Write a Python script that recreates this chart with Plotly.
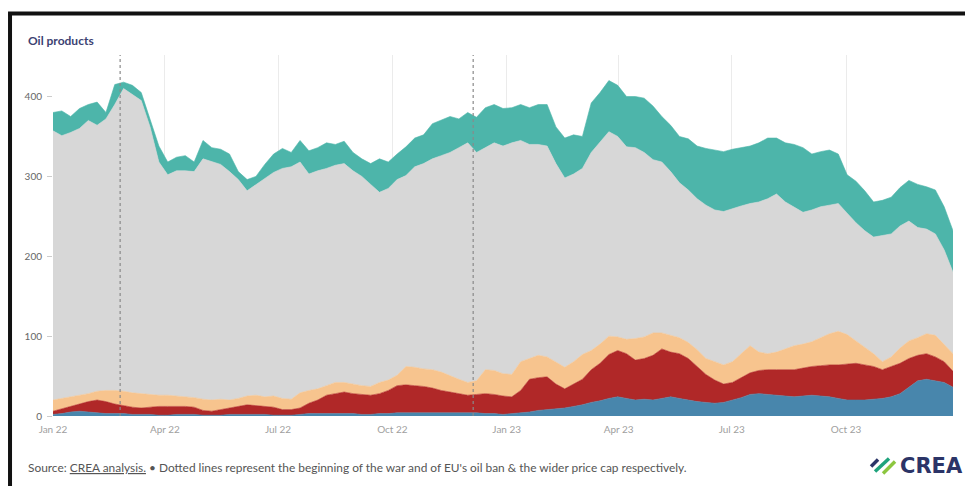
import pandas as pd
import plotly.graph_objects as go

# Cumulative boundaries of the stacked layers, weekly
teal_top = [380, 382, 375, 385, 390, 393, 380, 415, 418, 414,
            405, 372, 338, 318, 324, 326, 318, 345, 336, 334,
            328, 306, 296, 300, 315, 328, 335, 330, 345, 332,
            336, 342, 340, 344, 330, 322, 316, 322, 318, 328,
            337, 348, 352, 366, 370, 375, 372, 380, 374, 386,
            390, 385, 386, 390, 386, 390, 390, 362, 348, 352,
            350, 392, 405, 420, 414, 400, 400, 398, 388, 375,
            364, 350, 347, 338, 335, 333, 331, 334, 336, 338,
            342, 348, 348, 342, 340, 336, 328, 331, 333, 328,
            302, 294, 282, 268, 270, 274, 286, 295, 290, 287,
            283, 262, 232]
gray_top = [357, 351, 355, 360, 370, 364, 372, 390, 410, 403,
            395, 362, 318, 302, 307, 307, 306, 322, 318, 315,
            306, 296, 282, 290, 297, 305, 310, 312, 318, 303,
            307, 310, 314, 316, 307, 300, 290, 280, 285, 296,
            301, 312, 316, 322, 326, 330, 336, 342, 330, 336,
            342, 338, 342, 345, 340, 340, 338, 316, 298, 303,
            310, 330, 343, 356, 350, 337, 336, 330, 321, 318,
            306, 292, 283, 272, 264, 258, 256, 260, 263, 266,
            268, 272, 278, 268, 262, 255, 258, 262, 264, 266,
            254, 242, 232, 224, 226, 228, 238, 244, 236, 234,
            228, 208, 180]
orange_top = [20, 22, 24, 26, 28, 31, 32, 32, 31, 29,
              28, 27, 26, 26, 25, 24, 23, 21, 20, 21,
              20, 22, 25, 26, 24, 25, 22, 21, 29, 32,
              34, 38, 42, 42, 40, 38, 37, 42, 45, 51,
              62, 61, 59, 58, 55, 50, 46, 42, 44, 58,
              57, 53, 52, 68, 72, 76, 74, 68, 61, 68,
              77, 82, 90, 100, 99, 96, 97, 99, 104, 104,
              101, 98, 92, 83, 72, 68, 64, 68, 78, 88,
              80, 78, 80, 84, 88, 90, 93, 98, 103, 106,
              102, 94, 86, 78, 68, 74, 85, 94, 98, 103,
              101, 90, 78]
red_top = [6, 9, 12, 15, 18, 20, 18, 15, 13, 11,
           10, 11, 12, 12, 12, 12, 11, 7, 6, 8,
           10, 12, 14, 13, 12, 11, 8, 8, 10, 16,
           20, 26, 28, 30, 28, 27, 26, 28, 32, 38,
           39, 38, 37, 35, 32, 30, 28, 26, 27, 28,
           27, 25, 24, 32, 46, 48, 49, 40, 34, 40,
           46, 58, 66, 77, 82, 78, 70, 72, 76, 84,
           80, 78, 72, 62, 52, 45, 40, 42, 48, 54,
           57, 58, 58, 58, 58, 60, 62, 63, 64, 64,
           65, 66, 64, 62, 58, 62, 66, 72, 76, 78,
           74, 68, 56]
blue_top = [2, 3, 5, 6, 5, 4, 3, 3, 3, 2,
            2, 2, 1, 1, 2, 2, 2, 1, 1, 1,
            2, 2, 2, 2, 2, 1, 1, 1, 2, 3,
            3, 3, 3, 3, 3, 2, 2, 3, 3, 4,
            4, 4, 4, 4, 4, 4, 4, 4, 4, 3,
            3, 2, 3, 4, 5, 7, 8, 9, 10, 12,
            14, 17, 19, 22, 24, 22, 20, 21, 20, 22,
            24, 22, 20, 18, 17, 16, 17, 20, 23, 27,
            28, 27, 26, 25, 24, 25, 26, 25, 24, 22,
            20, 20, 20, 21, 22, 24, 28, 36, 44, 46,
            44, 42, 36]

dates = pd.date_range("2022-01-01", "2023-12-26", periods=len(teal_top))
event_dates = ["2022-02-24", "2022-12-05"]
y_ticks = [0, 100, 200, 300, 400]

layers = [
    ("blue", blue_top, "#4886ac", "tozeroy"),
    ("red", red_top, "#b02828", "tonexty"),
    ("orange", orange_top, "#f7c48e", "tonexty"),
    ("gray", gray_top, "#d7d7d7", "tonexty"),
    ("teal", teal_top, "#4db5aa", "tonexty"),
]

fig = go.Figure()
for name, vals, col, fill in layers:
    fig.add_trace(go.Scatter(x=dates, y=vals, name=name, mode="lines",
                             line=dict(width=0.6, color=col), fill=fill,
                             fillcolor=col, showlegend=False, hoverinfo="skip"))

L, R, T, B = 52.5, 12, 55, 69.5
W, H = 965, 486
pw, ph = W - L - R, H - T - B

def xp(px):
    return (px - L) / pw

def yp(py):
    return (H - B - py) / ph

shapes = []
for d in event_dates:
    shapes.append(dict(type="line", xref="x", yref="paper", x0=d, x1=d, y0=0, y1=1,
                       line=dict(color="#8a8a8a", width=1.2, dash="dot"), layer="above"))
# image frame
shapes.append(dict(type="line", xref="paper", yref="paper", x0=xp(9.5), x1=xp(9.5),
                   y0=yp(500), y1=yp(13.5), line=dict(color="#111", width=4)))
shapes.append(dict(type="line", xref="paper", yref="paper", x0=xp(7.5), x1=xp(980),
                   y0=yp(13.5), y1=yp(13.5), line=dict(color="#111", width=4)))
# logo icon stripes
for (x0, y0, x1, y1, c) in [(871, 467, 878, 460, "#2b3467"),
                            (875, 472, 889, 459, "#1ea37c"),
                            (883, 474, 895, 462, "#8cc63f")]:
    shapes.append(dict(type="line", xref="paper", yref="paper", x0=xp(x0), y0=yp(y0),
                       x1=xp(x1), y1=yp(y1), line=dict(color=c, width=3.5)))

annotations = [
    dict(text="<b>Oil products</b>", xref="paper", yref="paper", x=xp(25), y=yp(40),
         xanchor="left", yanchor="middle", showarrow=False,
         font=dict(family="Lato", size=12, color="#3c4272")),
    dict(text="Source: <span style='text-decoration:underline'>CREA analysis.</span> • Dotted lines represent the beginning of the war and of EU's oil ban & the wider price cap respectively.",
         xref="paper", yref="paper", x=xp(25), y=yp(468), xanchor="left", yanchor="middle",
         showarrow=False, font=dict(family="Lato", size=11.9, color="#555")),
    dict(text="<b>CREA</b>", xref="paper", yref="paper", x=xp(898), y=yp(467),
         xanchor="left", yanchor="middle", showarrow=False,
         font=dict(family="DejaVu Sans", size=21, color="#2b3467")),
]

fig.update_layout(
    width=W, height=H, margin=dict(l=L, r=R, t=T, b=B),
    paper_bgcolor="white", plot_bgcolor="white",
    font=dict(family="Lato", size=10, color="#666"),
    shapes=shapes, annotations=annotations,
    xaxis=dict(type="date", range=["2022-01-01", "2023-12-26"], tickformat="%b %y",
               dtick="M3", tick0="2022-01-01", showgrid=True, gridcolor="#ebebeb",
               gridwidth=1, ticks="", showline=False, zeroline=False,
               ticklabelstandoff=6,
               tickfont=dict(size=10, color="#a0a0a0")),
    yaxis=dict(range=[0, 452], tickvals=y_ticks, showgrid=False, zeroline=False,
               ticks="outside", ticklen=5, tickcolor="#cccccc", showline=False,
               ticklabelstandoff=3,
               tickfont=dict(size=10, color="#666")),
)

fig.write_html("out.html", config={"displayModeBar": False},
               post_script="document.body.style.margin='0';")
